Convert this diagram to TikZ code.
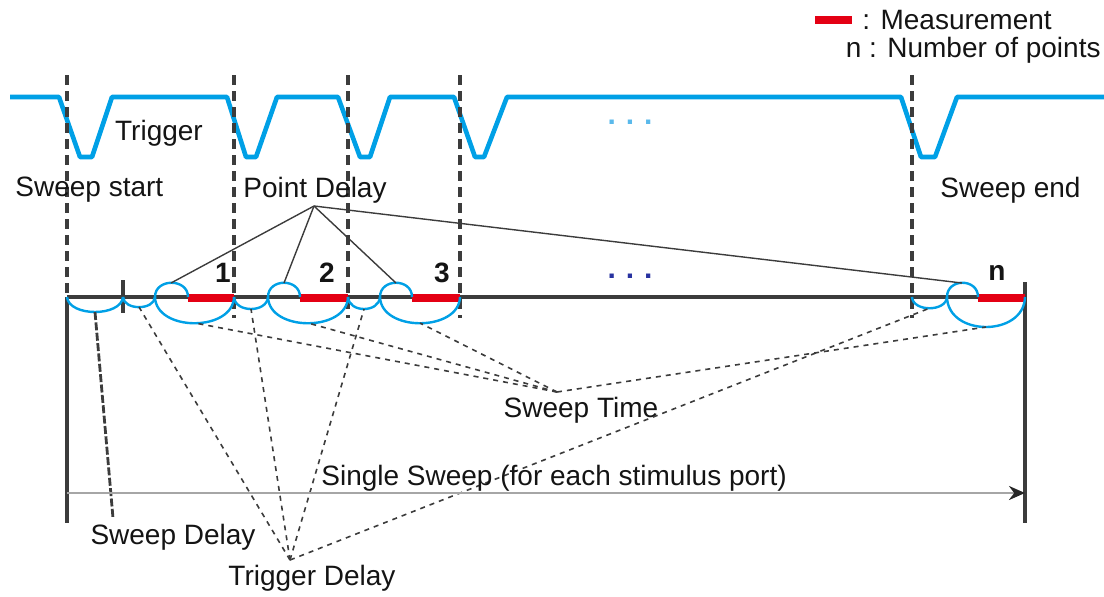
\documentclass[tikz,border=0pt]{standalone}
\usepackage{fontspec}
\setmainfont{Liberation Sans}
\usetikzlibrary{arrows.meta}
\definecolor{sigblue}{RGB}{0,160,230}
\definecolor{lightsig}{RGB}{90,185,235}
\definecolor{axgray}{RGB}{60,60,60}
\definecolor{meas}{RGB}{228,0,20}
\definecolor{dotblue}{RGB}{40,50,160}
\begin{document}
\begin{tikzpicture}[x=0.5pt,y=-0.5pt,
  lbl/.style={font=\fontsize{14}{16}\selectfont, inner sep=0pt, text=black!92},
  numlbl/.style={font=\fontsize{14}{16}\selectfont\bfseries, inner sep=0pt, text=black!92},
  sig/.style={sigblue, line width=2.3pt, line join=round},
  axisline/.style={axgray, line width=2pt},
  guide/.style={axgray, line width=1.8pt, dash pattern=on 5pt off 3pt},
  bound/.style={axgray, line width=2pt},
  arcb/.style={sigblue, line width=1.2pt},
  measbar/.style={meas, line width=3.8pt},
  pdline/.style={axgray, line width=0.7pt},
  dline/.style={axgray, line width=0.8pt, dash pattern=on 2.5pt off 2.5pt},
  sdline/.style={axgray, line width=1.4pt, dash pattern=on 4pt off 1.2pt},
  sweeparrow/.style={gray!70, line width=1.3pt, -{Stealth[length=8pt,width=7pt,color=black!85]}}
]
\useasboundingbox (0,0) rectangle (1104,596);

% legend
\coordinate (legA) at (815,20);
\coordinate (legB) at (852,20);
\draw[measbar] (legA) -- (legB);
\node[lbl, anchor=west] (legm) at (862,20) {: Measurement};
\node[lbl, anchor=east] (legn) at (1101,50) {n : Number of points};

% trigger signal
\draw[sig] (10,97) -- (59,97) -- (80,157) -- (92,157) -- (112,97)
  -- (227,97) -- (246,157) -- (256,157) -- (277,97)
  -- (338,97) -- (360,157) -- (370,157) -- (390,97)
  -- (454,97) -- (475,157) -- (484,157) -- (507,97)
  -- (901,97) -- (921,157) -- (935,157) -- (957,97) -- (1104,97);

% guide lines
\draw[guide] (67,75) -- (67,297);
\draw[guide] (234,75) -- (234,318);
\draw[guide] (348,75) -- (348,318);
\draw[guide] (460,75) -- (460,318);
\draw[guide] (912,75) -- (912,318);

% axis and boundaries
\draw[axisline] (67,297) -- (1025,297);
\draw[bound] (67,297) -- (67,523);
\draw[bound] (1025,282) -- (1025,523);
\draw[bound] (123,280) -- (123,313);

% text labels top
\node[lbl] (trig) at (159,133) {Trigger};
\node[lbl, anchor=west] (sws) at (15,190) {Sweep start};
\node[lbl, anchor=west] (pdl) at (243,190) {Point Delay};
\node[lbl, anchor=west] (swe) at (940,190) {Sweep end};
\node[font=\fontsize{15}{16}\selectfont\bfseries, text=lightsig, inner sep=0pt] (dots1) at (630,122) {.\hspace{5pt}.\hspace{5pt}.};
\node[font=\fontsize{15}{16}\selectfont\bfseries, text=dotblue, inner sep=0pt] (dots2) at (630,276) {.\hspace{5pt}.\hspace{5pt}.};

% measurement bars
\draw[measbar] (188,298) -- (234,298);
\draw[measbar] (300,298) -- (348,298);
\draw[measbar] (412,298) -- (460,298);
\draw[measbar] (978,298) -- (1025,298);
\node[numlbl] (n1) at (223,273) {1};
\node[numlbl] (n2) at (327,273) {2};
\node[numlbl] (n3) at (442,273) {3};
\node[numlbl] (nn) at (997,273) {n};

% arcs
\draw[arcb] (67,297) .. controls (69,317) and (121,317) .. (123,297);
% point 1
\draw[arcb] (123,297) .. controls (124,310.5) and (154,310.5) .. (155,297);
\draw[arcb] (155,297) .. controls (155,278) and (188,278) .. (188,297);
\draw[arcb] (155,297) .. controls (156,332) and (233,332) .. (234,297);
% point 2
\draw[arcb] (234,297) .. controls (235,313) and (267,313) .. (268,297);
\draw[arcb] (268,297) .. controls (268,278) and (300,278) .. (300,297);
\draw[arcb] (268,297) .. controls (269,332) and (347,332) .. (348,297);
% point 3
\draw[arcb] (348,297) .. controls (349,313) and (379,313) .. (380,297);
\draw[arcb] (380,297) .. controls (380,278) and (412,278) .. (412,297);
\draw[arcb] (380,297) .. controls (381,332) and (459,332) .. (460,297);
% point n
\draw[arcb] (912,297) .. controls (913,312) and (946,312) .. (947,297);
\draw[arcb] (947,297) .. controls (947,278) and (978,278) .. (978,297);
\draw[arcb] (947,297) .. controls (948,337) and (1024,337) .. (1025,297);

% anchor points on arcs
\coordinate (sdA) at (95,312);
\coordinate (td1) at (139,307);
\coordinate (td2) at (251,309);
\coordinate (td3) at (364,309);
\coordinate (tdn) at (930,308);
\coordinate (st1) at (195,323);
\coordinate (st2) at (308,323);
\coordinate (st3) at (420,323);
\coordinate (stn) at (986,327);
\coordinate (pd1) at (171,283);
\coordinate (pd2) at (284,283);
\coordinate (pd3) at (396,283);
\coordinate (pdn) at (962,283);

% hubs
\coordinate (pdH) at (314,206);
\coordinate (stH) at (557,392);
\coordinate (tdH) at (290,560);
\coordinate (sdE) at (113,518);

% point delay lines
\foreach \p in {pd1,pd2,pd3,pdn} \draw[pdline] (pdH) -- (\p);

% sweep time
\node[lbl] (stl) at (581,410) {Sweep Time};
\foreach \p in {st1,st2,st3,stn} \draw[dline] (stH) -- (\p);

% trigger delay
\node[lbl] (tdl) at (312,578) {Trigger Delay};
\foreach \p in {td1,td2,td3,tdn} \draw[dline] (tdH) -- (\p);

% sweep delay
\node[lbl] (sdl) at (173,537) {Sweep Delay};
\draw[sdline] (sdA) -- (sdE);

% single sweep
\coordinate (ssA) at (67,493);
\coordinate (ssB) at (1025,493);
\draw[sweeparrow] (ssA) -- (ssB);
\node[lbl, anchor=west] (ssl) at (321,478) {Single Sweep (for each stimulus port)};
\end{tikzpicture}
\end{document}
